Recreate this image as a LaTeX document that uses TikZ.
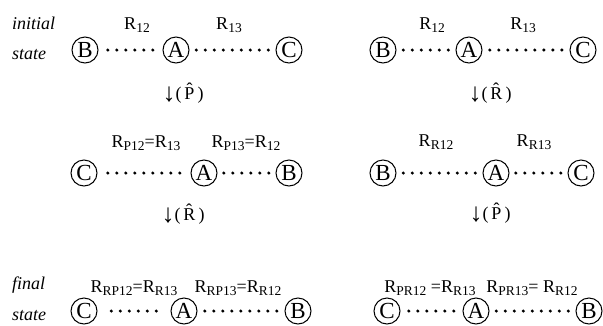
\documentclass[tikz,border=0pt]{standalone}
\usepackage{fontspec}
\setmainfont{Liberation Serif}
\usetikzlibrary{positioning}
\usetikzlibrary{calc}

\newcommand{\lo}[1]{\raisebox{-2.5pt}{\fontsize{13.5}{15}\selectfont #1}}
\newcommand{\dn}{\raisebox{-2pt}{\fontsize{26}{26}\selectfont ↓}}

\begin{document}
\begin{tikzpicture}[ x = 1pt, y = -1pt
                     , font = \fontsize{18}{21}\selectfont
                     , every node/.style = { inner sep = 0pt }
                     ]
  \useasboundingbox (0,0) rectangle (603,325);

  %%
  %% Nodes
  %%
  \tikzset{ atom/.style={circle, draw=black, line width=1pt, minimum size=26pt,
                         font=\fontsize{23}{24}\selectfont}
          , bond/.style={line width=3.4pt, line cap=round, dash pattern=on 0pt off 9pt}
          , trim/.style={shorten <=#1, shorten >=#1}
          , tag/.style={anchor=west, font=\fontsize{18}{21}\selectfont\itshape}
          }

  % Initial state, left.
  \node (init) [tag] at (12,23) {initial};
  \node (st1) [tag] at (12,55) {state};
  \node (b1) [atom] at (85,50) {B};
  \node (a1) [atom] at (176,50) {A};
  \node (c1) [atom] at (289,50) {C};
  \node (l1) at (137,25) {R\lo{12}};
  \node (m1) at (229,25) {R\lo{13}};
  \node (op1) at (183,93) {\dn(\,\^{P}\,)};

  % Initial state, right.
  \node (b2) [atom] at (383,50) {B};
  \node (a2) [atom] at (469,50) {A};
  \node (c2) [atom] at (583,50) {C};
  \node (l2) at (432,25) {R\lo{12}};
  \node (m2) at (523,25) {R\lo{13}};
  \node (op2) at (490,93) {\dn(\,\^{R}\,)};

  % Middle row.
  \node (c3) [atom] at (84,173) {C};
  \node (a3) [atom] at (204,173) {A};
  \node (b3) [atom] at (289,173) {B};
  \node (l3) at (146,143) {R\lo{P12}=R\lo{13}};
  \node (m3) at (246,143) {R\lo{P13}=R\lo{12}};
  \node (op3) at (183,214) {\dn(\,\^{R}\,)};

  \node (b4) [atom] at (383,173) {B};
  \node (a4) [atom] at (496,173) {A};
  \node (c4) [atom] at (581,173) {C};
  \node (l4) at (436,142) {R\lo{R12}};
  \node (m4) at (534,142) {R\lo{R13}};
  \node (op4) at (490,213) {\dn(\,\^{P}\,)};

  % Final state.
  \node (fin) [tag] at (12,285) {final};
  \node (st2) [tag] at (12,316) {state};
  \node (c5) [atom] at (84,311) {C};
  \node (a5) [atom] at (184,311) {A};
  \node (b5) [atom] at (298,311) {B};
  \node (l5) at (134,288) {R\lo{RP12}=R\lo{R13}};
  \node (m5) at (238,288) {R\lo{RP13}=R\lo{R12}};

  \node (c6) [atom] at (387,311) {C};
  \node (a6) [atom] at (476,311) {A};
  \node (b6) [atom] at (589,311) {B};
  \node (l6) at (430,288) {R\lo{PR12} =R\lo{R13}};
  \node (m6) at (532,288) {R\lo{PR13}= R\lo{R12}};

  %%
  %% Bonds (dotted lines)
  %%
  \draw[bond, trim=9.3pt] (b1) -- (a1);
  \draw[bond, trim=6.8pt] (a1) -- (c1);
  \draw[bond, trim=6.8pt] (b2) -- (a2);
  \draw[bond, trim=7.3pt] (a2) -- (c2);
  \draw[bond, trim=10.3pt] (c3) -- (a3);
  \draw[bond, trim=6.3pt] (a3) -- (b3);
  \draw[bond, trim=6.8pt] (b4) -- (a4);
  \draw[bond, trim=6.3pt] (a4) -- (c4);
  \draw[bond, trim=13.8pt] (c5) -- (a5);
  \draw[bond, trim=7.3pt] (a5) -- (b5);
  \draw[bond, trim=8.3pt] (c6) -- (a6);
  \draw[bond, trim=6.8pt] (a6) -- (b6);
\end{tikzpicture}
\end{document}
